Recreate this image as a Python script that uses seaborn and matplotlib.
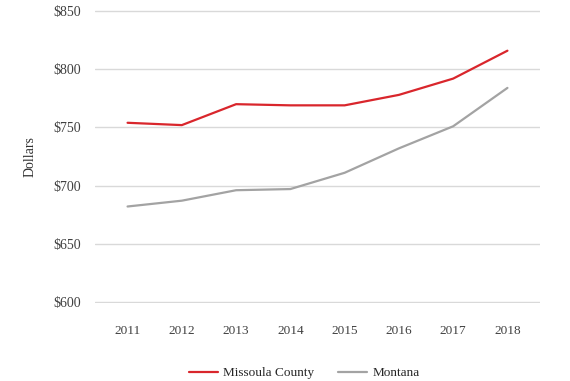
import pandas as pd
import matplotlib.pyplot as plt
import seaborn as sns

# data
years = [2011, 2012, 2013, 2014, 2015, 2016, 2017, 2018]
missoula = [754, 752, 770, 769, 769, 778, 792, 816]
montana = [682, 687, 696, 697, 711, 732, 751, 784]
y_ticks = [600, 650, 700, 750, 800, 850]

df = pd.DataFrame({
    "Year": years * 2,
    "Rent": missoula + montana,
    "Area": ["Missoula County"] * len(years) + ["Montana"] * len(years),
})

sns.set_style("white")
plt.rcParams["font.family"] = ["Liberation Serif", "DejaVu Serif"]

fig = plt.figure(figsize=(5.7, 3.81), dpi=100)
ax = fig.add_axes([95 / 570, 1 - 303 / 381, 445 / 570, 293 / 381])

sns.lineplot(data=df, x="Year", y="Rent", hue="Area",
             palette={"Missoula County": "#d9262c", "Montana": "#a3a3a3"},
             linewidth=1.6, ax=ax)

ax.set_xlim(2010.4, 2018.6)
ax.set_ylim(599, 851)
ax.set_yticks(y_ticks)
ax.set_yticklabels([f"${v}" for v in y_ticks], fontsize=10, color="#404040")
ax.set_xticks(years)
ax.set_xticklabels([str(y) for y in years], fontsize=9.5, color="#404040")
ax.tick_params(axis="x", length=0, pad=16)
ax.tick_params(axis="y", length=0, pad=10)
ax.yaxis.grid(True, color="#d9d9d9", linewidth=1)
ax.set_axisbelow(True)
for s in ax.spines.values():
    s.set_visible(False)

ax.set_xlabel("")
ax.set_ylabel("Dollars", fontsize=10, color="#303030", labelpad=12)

ax.legend(loc="center", bbox_to_anchor=(304 / 570, 1 - 373 / 381),
          bbox_transform=fig.transFigure, ncol=2,
          frameon=False, fontsize=9.5, handlelength=2.2, handletextpad=0.4,
          columnspacing=1.8)

plt.savefig("out.png", dpi=100)
